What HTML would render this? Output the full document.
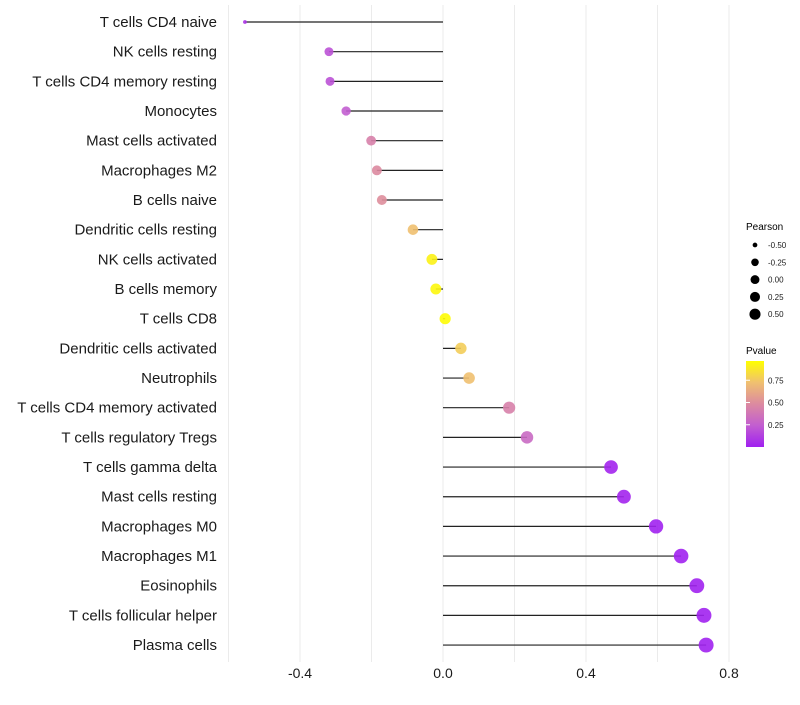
<!DOCTYPE html>
<html><head><meta charset="utf-8"><style>
body{margin:0;background:#fff;font-family:"Liberation Sans",sans-serif}
svg text{font-family:"Liberation Sans",sans-serif}
</style></head><body>
<svg id="chart" width="800" height="700">
<g id="grid"></g>
<g id="ylabels"></g>
<g id="marks"></g>
<g id="xticks"></g>
<g id="legend">
<text x="746" y="230" font-size="10">Pearson</text>
<g id="sizeleg"></g>
<text x="746" y="354" font-size="10">Pvalue</text>
<defs><linearGradient id="pg" x1="0" y1="1" x2="0" y2="0">
<stop offset="0" stop-color="#a020f0"/><stop offset="0.25" stop-color="#c25ed0"/><stop offset="0.5" stop-color="#dc8aa0"/><stop offset="0.75" stop-color="#f0c070"/><stop offset="1" stop-color="#ffff00"/></linearGradient></defs>
<rect x="746" y="361" width="18" height="86" fill="url(#pg)"/>
<g id="colleg"></g>
</g>
</svg>
<script>
const categories=["T cells CD4 naive","NK cells resting","T cells CD4 memory resting","Monocytes","Mast cells activated","Macrophages M2","B cells naive","Dendritic cells resting","NK cells activated","B cells memory","T cells CD8","Dendritic cells activated","Neutrophils","T cells CD4 memory activated","T cells regulatory  Tregs ","T cells gamma delta","Mast cells resting","Macrophages M0","Macrophages M1","Eosinophils","T cells follicular helper","Plasma cells"];
const pearson=[-0.554,-0.319,-0.316,-0.271,-0.201,-0.185,-0.171,-0.084,-0.031,-0.020,0.006,0.050,0.073,0.185,0.235,0.470,0.506,0.596,0.666,0.710,0.730,0.736];
const pvalues=[0.08,0.2,0.2,0.25,0.45,0.5,0.52,0.75,0.95,0.97,0.99,0.8,0.75,0.45,0.32,0.02,0.02,0.01,0.01,0.01,0.01,0.01];
const xTicks=[-0.4,0,0.4,0.8];
const xTickLabels=["-0.4","0.0","0.4","0.8"];
const gridVals=[-0.6,-0.4,-0.2,0,0.2,0.4,0.6,0.8];
const sizeLegVals=[-0.5,-0.25,0,0.25,0.5];
const sizeLegLabels=["-0.50","-0.25","0.00","0.25","0.50"];
const colTicks=[0.75,0.5,0.25];
const colTickLabels=["0.75","0.50","0.25"];
const NS="http://www.w3.org/2000/svg";
const x=v=>443+v*357.5;
const y=i=>22+i*29.67;
const r=v=>{const a=30.9+34.1*v;return v<-0.45?Math.max(1.8,Math.sqrt(a)-(-0.45-v)*15):Math.sqrt(Math.max(3,a));};
const stops=[[0,[160,32,240]],[0.25,[194,94,208]],[0.5,[220,138,160]],[0.75,[240,192,112]],[1,[255,255,0]]];
function col(p){for(let k=1;k<stops.length;k++){if(p<=stops[k][0]){const a=stops[k-1],b=stops[k],t=(p-a[0])/(b[0]-a[0]);return "rgb("+a[1].map((c,j)=>Math.round(c+(b[1][j]-c)*t)).join(",")+")";}}return "rgb(255,255,0)";}
function mk(tag,attrs,parent){const e=document.createElementNS(NS,tag);for(const k in attrs)e.setAttribute(k,attrs[k]);parent.appendChild(e);return e;}
const G=document.getElementById("grid");
gridVals.forEach(v=>{const l=mk("line",{x1:x(v),x2:x(v),y1:5,y2:662,stroke:"#ebebeb","stroke-width":1},G);

});
const YL=document.getElementById("ylabels"),M=document.getElementById("marks");
categories.forEach((c,i)=>{
const t=mk("text",{x:217,y:y(i)+5,"text-anchor":"end","font-size":15,fill:"#1a1a1a"},YL);t.textContent=c;


const l=mk("line",{x1:x(0),x2:x(pearson[i]),y1:y(i),y2:y(i),stroke:"#222","stroke-width":1.2},M);


const d=mk("circle",{cx:x(pearson[i]),cy:y(i),r:r(pearson[i]),fill:col(pvalues[i]),"fill-opacity":0.9},M);


});
const XT=document.getElementById("xticks");
xTicks.forEach((v,i)=>{const t=mk("text",{x:x(v),y:678,"text-anchor":"middle","font-size":14,fill:"#1a1a1a"},XT);t.textContent=xTickLabels[i];

});
const SL=document.getElementById("sizeleg");
sizeLegVals.forEach((v,i)=>{const yy=245+i*17.3;
const c=mk("circle",{cx:755,cy:yy,r:r(v)*0.8,fill:"#000"},SL);


const t=mk("text",{x:768,y:yy+3,"font-size":8,fill:"#1a1a1a"},SL);t.textContent=sizeLegLabels[i];

});
const CL=document.getElementById("colleg");
colTicks.forEach((v,i)=>{const yy=447-v*89;
const l=mk("line",{x1:746,x2:750,y1:yy,y2:yy,stroke:"#fff"},CL);


const t=mk("text",{x:768,y:yy+3,"font-size":8,fill:"#1a1a1a"},CL);t.textContent=colTickLabels[i];

});
</script>
</body></html>
